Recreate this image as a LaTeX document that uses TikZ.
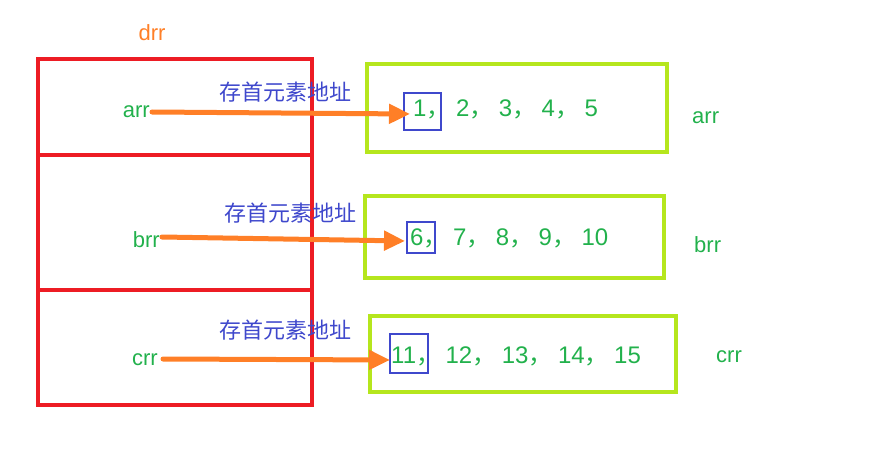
\documentclass[tikz,border=0pt]{standalone}
\usepackage{fontspec}
\setmainfont{Liberation Sans}
\newfontfamily\cjk{Noto Sans CJK SC}
\usetikzlibrary{arrows.meta}
\definecolor{cred}{HTML}{ED1C24}
\definecolor{cgreen}{HTML}{22B14C}
\definecolor{corange}{HTML}{FF7F27}
\definecolor{clime}{HTML}{B5E61D}
\definecolor{cblue}{HTML}{3F48CC}
\newcommand{\zc}{{\cjk ，}\hspace{5.5pt}}
\tikzset{
  redcell/.style={draw=cred, line width=4.5pt, inner sep=0pt, outer sep=0pt},
  arrbox/.style={draw=clime, line width=4.5pt, inner sep=0pt, outer sep=0pt},
  firstbox/.style={draw=cblue, line width=1.1pt, inner sep=0pt, outer sep=0pt},
  lbl/.style={text=cgreen, font=\fontsize{22}{24}\selectfont, inner sep=0pt},
  nums/.style={text=cgreen, font=\fontsize{24}{26}\selectfont, inner sep=0pt, anchor=west},
  addr/.style={text=cblue, font=\cjk\fontsize{22}{24}\selectfont, inner sep=0pt},
  ptr/.style={draw=corange, line width=5pt, line cap=round, -{Triangle[length=21pt,width=19pt]}},
}
\begin{document}
\begin{tikzpicture}[x=1pt,y=-1pt]
\useasboundingbox (0,0) rectangle (875,457);
% drr
\node[text=corange, font=\fontsize{22}{24}\selectfont, inner sep=0pt] (drr) at (152,33) {drr};
\node[redcell, minimum width=274pt, minimum height=96pt] (d1) at (175,107) {};
\node[redcell, minimum width=274pt, minimum height=135pt] (d2) at (175,222.5) {};
\node[redcell, minimum width=274pt, minimum height=115pt] (d3) at (175,347.5) {};
% arrays
\node[arrbox, minimum width=300pt, minimum height=88pt] (g1) at (517,108) {};
\node[arrbox, minimum width=299pt, minimum height=82pt] (g2) at (514.5,237) {};
\node[arrbox, minimum width=306pt, minimum height=76pt] (g3) at (523,354) {};
% first element boxes
\node[firstbox, minimum width=37pt, minimum height=37pt] (b1) at (422.5,111.5) {};
\node[firstbox, minimum width=28pt, minimum height=31pt] (b2) at (421,237.5) {};
\node[firstbox, minimum width=38pt, minimum height=39pt] (b3) at (409,353.5) {};
% numbers
\node[nums] (n1) at (413,109) {1\zc 2\zc 3\zc 4\zc 5};
\node[nums] (n2) at (410,238) {6\zc 7\zc 8\zc 9\zc 10};
\node[nums] (n3) at (391,356) {11\zc 12\zc 13\zc 14\zc 15};
% left labels
\node[lbl, anchor=east] (arr) at (150,112) {arr};
\node[lbl, anchor=east] (brr) at (160,240) {brr};
\node[lbl, anchor=east] (crr) at (158,360) {crr};
% right labels
\node[lbl, anchor=west] (arrR) at (692,118) {arr};
\node[lbl, anchor=west] (brrR) at (694,245) {brr};
\node[lbl, anchor=west] (crrR) at (716,357) {crr};
% address labels
\node[addr] (a1) at (285,92) {存首元素地址};
\node[addr] (a2) at (290,213) {存首元素地址};
\node[addr] (a3) at (285,330) {存首元素地址};
% pointers
\draw[ptr] ([xshift=2pt]arr.east) -- ([xshift=6pt,yshift=-2.5pt]b1.west);
\draw[ptr] ([xshift=2pt,yshift=3pt]brr.east) -- ([xshift=-2pt,yshift=-3.5pt]b2.west);
\draw[ptr] ([xshift=5pt,yshift=1pt]crr.east) -- ([yshift=-6.5pt]b3.west);
\end{tikzpicture}
\end{document}
